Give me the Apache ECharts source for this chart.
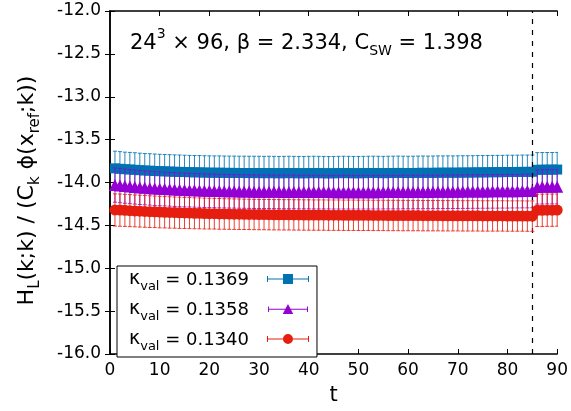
<!DOCTYPE html>
<html>
<head>
<meta charset="utf-8">
<script src="https://cdn.jsdelivr.net/npm/echarts@6/dist/echarts.min.js"></script>
<style>
  html, body { margin: 0; padding: 0; background: #fff; }
  #chart { width: 571px; height: 411px; }
</style>
</head>
<body>
<div id="chart"></div>
<script>
// Euclidean time slices
const timeSlices = [
  1, 2, 3, 4, 5, 6, 7, 8, 9, 10, 11, 12, 13, 14, 15, 16, 17, 18, 19, 20,
  21, 22, 23, 24, 25, 26, 27, 28, 29, 30, 31, 32, 33, 34, 35, 36, 37, 38, 39, 40,
  41, 42, 43, 44, 45, 46, 47, 48, 49, 50, 51, 52, 53, 54, 55, 56, 57, 58, 59, 60,
  61, 62, 63, 64, 65, 66, 67, 68, 69, 70, 71, 72, 73, 74, 75, 76, 77, 78, 79, 80,
  81, 82, 83, 84, 85, 86, 87, 88, 89, 90
];

// kappa_val values (legend labels)
const kappaLabels = ['0.1369', '0.1358', '0.1340'];

// kappa_val = 0.1369
const ratio1369 = [
  -13.835, -13.840, -13.845, -13.848, -13.852, -13.856, -13.860, -13.862, -13.866, -13.868,
  -13.870, -13.872, -13.875, -13.876, -13.878, -13.880, -13.881, -13.882, -13.884, -13.885,
  -13.886, -13.886, -13.887, -13.888, -13.888, -13.889, -13.889, -13.890, -13.890, -13.890,
  -13.891, -13.890, -13.891, -13.892, -13.891, -13.890, -13.891, -13.892, -13.892, -13.891,
  -13.890, -13.891, -13.892, -13.893, -13.892, -13.891, -13.890, -13.891, -13.892, -13.892,
  -13.891, -13.890, -13.889, -13.890, -13.891, -13.890, -13.889, -13.888, -13.889, -13.890,
  -13.889, -13.888, -13.887, -13.888, -13.887, -13.886, -13.886, -13.885, -13.886, -13.885,
  -13.884, -13.884, -13.883, -13.882, -13.882, -13.881, -13.880, -13.880, -13.879, -13.878,
  -13.878, -13.877, -13.876, -13.876, -13.875, -13.852, -13.851, -13.850, -13.850, -13.849
];
const error1369 = [
  0.200, 0.200, 0.199, 0.199, 0.199, 0.198, 0.198, 0.198, 0.198, 0.197,
  0.197, 0.197, 0.197, 0.197, 0.196, 0.196, 0.196, 0.196, 0.196, 0.196,
  0.196, 0.196, 0.196, 0.196, 0.196, 0.196, 0.196, 0.196, 0.196, 0.196,
  0.196, 0.196, 0.196, 0.196, 0.196, 0.196, 0.196, 0.196, 0.196, 0.196,
  0.196, 0.196, 0.196, 0.196, 0.196, 0.196, 0.196, 0.196, 0.196, 0.196,
  0.196, 0.196, 0.196, 0.196, 0.196, 0.196, 0.196, 0.196, 0.196, 0.196,
  0.196, 0.196, 0.196, 0.196, 0.196, 0.196, 0.196, 0.196, 0.196, 0.196,
  0.196, 0.196, 0.196, 0.196, 0.196, 0.196, 0.196, 0.196, 0.196, 0.196,
  0.196, 0.196, 0.196, 0.196, 0.196, 0.200, 0.200, 0.200, 0.200, 0.200
];

// kappa_val = 0.1358
const ratio1358 = [
  -14.030, -14.036, -14.042, -14.048, -14.053, -14.058, -14.062, -14.066, -14.070, -14.073,
  -14.076, -14.079, -14.082, -14.085, -14.087, -14.089, -14.091, -14.093, -14.095, -14.097,
  -14.098, -14.100, -14.101, -14.102, -14.103, -14.104, -14.105, -14.106, -14.107, -14.107,
  -14.108, -14.108, -14.109, -14.109, -14.110, -14.110, -14.110, -14.111, -14.111, -14.111,
  -14.112, -14.112, -14.112, -14.112, -14.113, -14.113, -14.113, -14.113, -14.113, -14.113,
  -14.113, -14.113, -14.113, -14.113, -14.112, -14.112, -14.112, -14.112, -14.111, -14.111,
  -14.111, -14.110, -14.110, -14.110, -14.109, -14.109, -14.108, -14.108, -14.107, -14.107,
  -14.106, -14.106, -14.105, -14.105, -14.104, -14.104, -14.103, -14.103, -14.102, -14.102,
  -14.101, -14.101, -14.100, -14.100, -14.099, -14.052, -14.051, -14.050, -14.050, -14.049
];
const error1358 = [
  0.200, 0.200, 0.200, 0.199, 0.199, 0.199, 0.198, 0.198, 0.198, 0.198,
  0.197, 0.197, 0.197, 0.197, 0.197, 0.196, 0.196, 0.196, 0.196, 0.196,
  0.196, 0.196, 0.196, 0.196, 0.196, 0.196, 0.196, 0.196, 0.196, 0.196,
  0.196, 0.196, 0.196, 0.196, 0.196, 0.196, 0.196, 0.196, 0.196, 0.196,
  0.196, 0.196, 0.196, 0.196, 0.196, 0.196, 0.196, 0.196, 0.196, 0.196,
  0.196, 0.196, 0.196, 0.196, 0.196, 0.196, 0.196, 0.196, 0.196, 0.196,
  0.196, 0.196, 0.196, 0.196, 0.196, 0.196, 0.196, 0.196, 0.196, 0.196,
  0.196, 0.196, 0.196, 0.196, 0.196, 0.196, 0.196, 0.196, 0.196, 0.196,
  0.196, 0.196, 0.196, 0.196, 0.196, 0.200, 0.200, 0.200, 0.200, 0.200
];

// kappa_val = 0.1340
const ratio1340 = [
  -14.320, -14.322, -14.325, -14.328, -14.331, -14.334, -14.337, -14.340, -14.342, -14.345,
  -14.347, -14.349, -14.351, -14.353, -14.355, -14.357, -14.359, -14.360, -14.362, -14.363,
  -14.364, -14.366, -14.367, -14.368, -14.369, -14.370, -14.371, -14.372, -14.373, -14.374,
  -14.374, -14.375, -14.376, -14.376, -14.377, -14.377, -14.378, -14.378, -14.379, -14.379,
  -14.380, -14.380, -14.380, -14.381, -14.381, -14.381, -14.382, -14.382, -14.382, -14.383,
  -14.383, -14.383, -14.384, -14.384, -14.384, -14.385, -14.385, -14.385, -14.386, -14.386,
  -14.386, -14.386, -14.387, -14.387, -14.387, -14.387, -14.388, -14.388, -14.388, -14.388,
  -14.389, -14.389, -14.389, -14.389, -14.390, -14.390, -14.390, -14.390, -14.390, -14.391,
  -14.391, -14.391, -14.391, -14.392, -14.392, -14.325, -14.324, -14.323, -14.323, -14.322
];
const error1340 = [
  0.188, 0.188, 0.187, 0.187, 0.186, 0.186, 0.185, 0.185, 0.184, 0.184,
  0.183, 0.183, 0.182, 0.182, 0.181, 0.181, 0.180, 0.180, 0.180, 0.179,
  0.179, 0.179, 0.178, 0.178, 0.178, 0.178, 0.177, 0.177, 0.177, 0.177,
  0.177, 0.177, 0.177, 0.177, 0.177, 0.177, 0.177, 0.177, 0.177, 0.177,
  0.177, 0.177, 0.177, 0.177, 0.177, 0.177, 0.177, 0.177, 0.177, 0.177,
  0.177, 0.177, 0.177, 0.177, 0.177, 0.177, 0.177, 0.177, 0.177, 0.177,
  0.177, 0.177, 0.177, 0.177, 0.177, 0.177, 0.177, 0.177, 0.177, 0.177,
  0.177, 0.177, 0.177, 0.177, 0.177, 0.177, 0.177, 0.177, 0.177, 0.177,
  0.177, 0.177, 0.177, 0.177, 0.177, 0.188, 0.188, 0.188, 0.188, 0.188
];

// source-sink separation marker
const separationT = 85;

// axis ticks
const xTicks = { min: 0, max: 90, interval: 10 };
const yTicks = { min: -16, max: -12, interval: 0.5 };

const FONT = 'DejaVu Sans, Liberation Sans, Arial, sans-serif';
const COLORS = ['#0072b2', '#9400d3', '#e51e10'];
const SYMBOLS = ['rect', 'triangle', 'circle'];
const SIZES = [10, 12, 11];

// legend samples: horizontal error bar with caps plus the point symbol
const bar = 'M0,4.5 H42 V5.5 H0 Z M0,2 H1 V8 H0 Z M41,2 H42 V8 H41 Z ';
const legendIcons = [
  'path://' + bar + 'M16,0 H26 V10 H16 Z',
  'path://' + bar + 'M21,-0.5 L26.5,10 L15.5,10 Z',
  'path://' + bar + 'M26,5 A5,5 0 1,1 16,5 A5,5 0 1,1 26,5 Z'
];

function errorBarItem(params, api) {
  const x = api.value(0), y = api.value(1), e = api.value(2);
  const hi = api.coord([x, y + e]);
  const lo = api.coord([x, y - e]);
  const hw = 2;
  const style = { stroke: api.visual('color'), lineWidth: 1, fill: null, opacity: 0.85 };
  return {
    type: 'group',
    children: [
      { type: 'line', shape: { x1: hi[0], y1: hi[1], x2: lo[0], y2: lo[1] }, style },
      { type: 'line', shape: { x1: hi[0] - hw, y1: hi[1], x2: hi[0] + hw, y2: hi[1] }, style },
      { type: 'line', shape: { x1: lo[0] - hw, y1: lo[1], x2: lo[0] + hw, y2: lo[1] }, style }
    ]
  };
}

const seriesValues = [ratio1369, ratio1358, ratio1340];
const seriesErrors = [error1369, error1358, error1340];

const series = [];
seriesValues.forEach((vals, i) => {
  const errData = timeSlices.map((t, k) => [t, vals[k], seriesErrors[i][k]]);
  const ptData = timeSlices.map((t, k) => [t, vals[k]]);
  series.push({
    name: kappaLabels[i],
    type: 'custom',
    renderItem: errorBarItem,
    data: errData,
    encode: { x: 0, y: 1 },
    itemStyle: { color: COLORS[i] },
    z: 2 + 2 * i,
    clip: true
  });
  series.push({
    name: kappaLabels[i],
    type: 'scatter',
    data: ptData,
    symbol: SYMBOLS[i],
    symbolSize: SIZES[i],
    itemStyle: { color: COLORS[i], opacity: 1 },
    z: 3 + 2 * i,
    clip: false
  });
});

// dashed vertical line at the separation
series.push({
  type: 'line',
  data: [],
  markLine: {
    silent: true,
    symbol: ['none', 'none'],
    label: { show: false },
    lineStyle: { color: '#000', type: [5, 6], width: 1.2 },
    data: [{ xAxis: separationT }]
  },
  z: 10
});

const axisLine = { show: true, lineStyle: { color: '#000', width: 1.5 } };
const tick = { show: true, inside: true, length: 5, lineStyle: { color: '#000', width: 1 } };
const txt = (size, extra) => Object.assign({ fontSize: size, color: '#000', fontFamily: FONT, fontWeight: 'normal' }, extra);

const chart = echarts.init(document.getElementById('chart'), null, { renderer: 'canvas' });
chart.setOption({
  animation: false,
  backgroundColor: '#fff',
  title: {
    text: '{n|24}{sup|3}{n| × 96, β = 2.334, C}{sub|SW}{n| = 1.398}',
    left: 125,
    top: 22,
    textStyle: {
      fontFamily: FONT,
      fontWeight: 'normal',
      rich: {
        n: txt(21, { lineHeight: 27, verticalAlign: 'bottom' }),
        sup: txt(14, { lineHeight: 27, verticalAlign: 'top' }),
        sub: txt(14, { lineHeight: 18, verticalAlign: 'bottom', padding: [0, 0, -4, 0] })
      }
    }
  },
  grid: { left: 110, right: 12, top: 11, bottom: 57, containLabel: false },
  legend: {
    orient: 'vertical',
    left: 117,
    top: 266,
    align: 'right',
    itemWidth: 42,
    itemHeight: 10,
    itemGap: 7,
    selectedMode: false,
    backgroundColor: '#fff',
    borderColor: '#000',
    borderWidth: 1,
    borderRadius: 0,
    padding: [4, 8, 4, 12],
    z: 20,
    data: kappaLabels.map((name, i) => ({ name, icon: legendIcons[i], itemStyle: { color: COLORS[i] } })),
    formatter: name => '{k|κ}{s|val}{n| = ' + name + '}',
    textStyle: {
      fontFamily: FONT,
      rich: {
        k: txt(19, { lineHeight: 20, verticalAlign: 'bottom' }),
        s: txt(13, { lineHeight: 14, verticalAlign: 'bottom', padding: [0, 0, -4, 0] }),
        n: txt(18, { lineHeight: 20, verticalAlign: 'bottom', padding: [0, 13, 0, 0] })
      }
    }
  },
  xAxis: [
    {
      type: 'value', min: xTicks.min, max: xTicks.max, interval: xTicks.interval,
      position: 'bottom',
      name: 't', nameLocation: 'middle', nameGap: 31,
      nameTextStyle: txt(21),
      axisLine, axisTick: tick,
      axisLabel: txt(17, { margin: 8 }),
      splitLine: { show: false }
    },
    {
      type: 'value', min: xTicks.min, max: xTicks.max, interval: xTicks.interval,
      position: 'top',
      axisLine, axisTick: tick,
      axisLabel: { show: false },
      splitLine: { show: false }
    }
  ],
  yAxis: [
    {
      type: 'value', min: yTicks.min, max: yTicks.max, interval: yTicks.interval,
      position: 'left',
      name: '{n|H}{sub|L}{n|(k;k) / (C}{sub|k}{n| ϕ(x}{sub|ref}{n|;k))}',
      nameLocation: 'middle', nameGap: 72, nameRotate: 90,
      nameTextStyle: {
        fontFamily: FONT,
        padding: [0, 16, 0, 0],
        rich: {
          n: txt(22, { lineHeight: 28, verticalAlign: 'bottom' }),
          sub: txt(15, { lineHeight: 18, verticalAlign: 'bottom', padding: [0, 0, -5, 0] })
        }
      },
      axisLine, axisTick: tick,
      axisLabel: txt(17, { margin: 9, formatter: v => v.toFixed(1) }),
      splitLine: { show: false }
    },
    {
      type: 'value', min: yTicks.min, max: yTicks.max, interval: yTicks.interval,
      position: 'right',
      axisLine, axisTick: tick,
      axisLabel: { show: false },
      splitLine: { show: false }
    }
  ],
  series
});
</script>
</body>
</html>
